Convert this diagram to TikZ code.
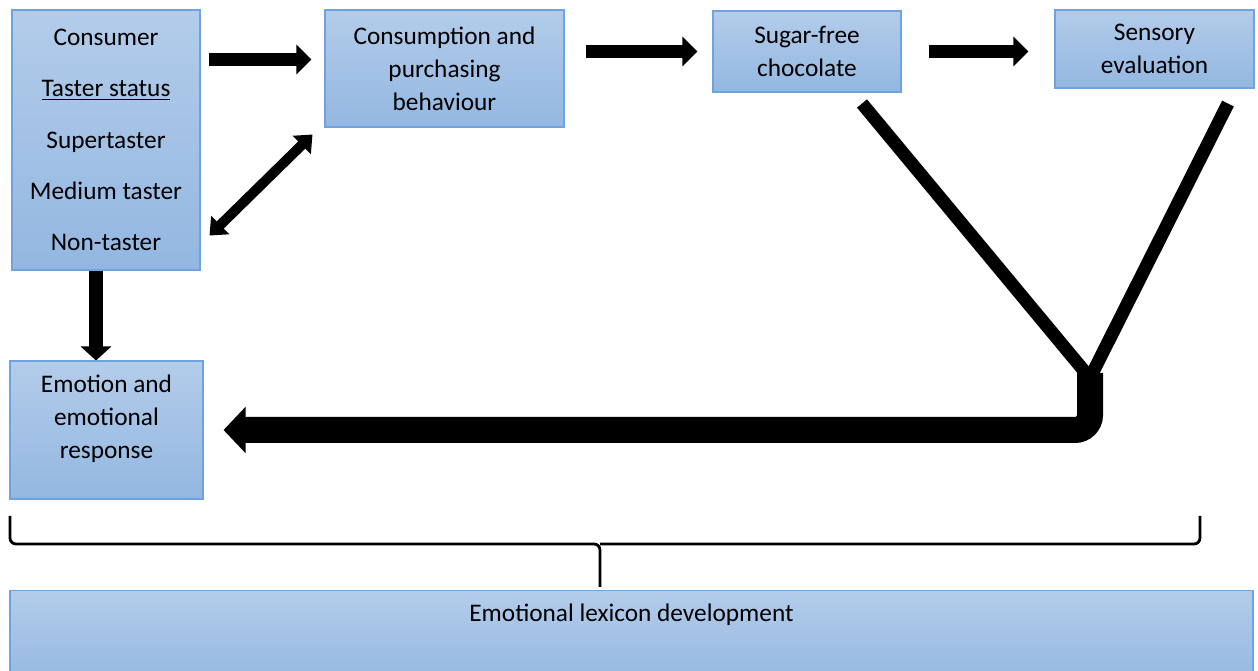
\documentclass[tikz,border=0pt]{standalone}
\usepackage{fontspec}
\setmainfont{Carlito}
\usepackage{tikz}
\usetikzlibrary{arrows.meta}
\definecolor{boxtop}{HTML}{B3CCEA}
\definecolor{boxbottom}{HTML}{93B7E1}
\definecolor{boxline}{HTML}{6FA3DE}

\begin{document}
\begin{tikzpicture}[
  every node/.style={font=\fontsize{14.4}{18.8}\selectfont},
  stage/.style={draw=boxline, line width=0.6pt, top color=boxtop, bottom color=boxbottom, align=center, inner sep=2pt},
  fat/.style={line width=0.26cm, -{Triangle[length=3mm,width=5.8mm]}},
  twoway/.style={line width=0.2cm, {Triangle[length=3mm,width=5mm]}-{Triangle[length=3mm,width=5mm]}},
  down/.style={line width=0.28cm, -{Triangle[length=2.8mm,width=6mm]}},
  prong/.style={line width=0.26cm},
  merge/.style={line width=0.52cm, rounded corners=0.3cm, -{Triangle[length=4.4mm,width=9mm]}},
  brace/.style={line width=1.6pt, rounded corners=0.12cm}
]
\useasboundingbox (0,0) rectangle (25.16,13.42);

\node[stage, minimum width=3.76cm, minimum height=5.2cm] (consumer) at (2.12,10.62) {Consumer\\[10.4pt]\underline{Taster status}\\[10.4pt]Supertaster\\[10.4pt]Medium taster\\[10.4pt]Non-taster};
\node[stage, minimum width=4.78cm, minimum height=2.34cm] (consumption) at (8.89,12.05) {Consumption and\\purchasing\\behaviour};
\node[stage, minimum width=3.76cm, minimum height=1.62cm] (sugar) at (16.14,12.39) {Sugar-free\\chocolate};
\node[stage, minimum width=3.98cm, minimum height=1.56cm] (sensory) at (23.09,12.44) {Sensory\\evaluation};
\node[stage, minimum width=3.86cm, minimum height=2.76cm, text depth=0.52cm] (emotion) at (2.13,4.82) {Emotion and\\emotional\\response};
\node[stage, anchor=north, minimum width=24.86cm, inner ysep=0pt, text height=0.62cm, text depth=1.3cm] (lexicon) at (12.63,1.62) {Emotional lexicon development};

\coordinate (toprow) at ([yshift=-1cm]consumer.north east);
\coordinate (drop) at ([xshift=-0.2cm]consumer.south);
\coordinate (junction) at (21.8,5.96);

\draw[fat, shorten <=0.16cm, shorten >=0.26cm] (toprow) -- (toprow -| consumption.west);
\draw[fat, shorten <=0.42cm, shorten >=0.3cm] (consumption.east |- sugar.west) -- (sugar.west);
\draw[fat, shorten <=0.54cm, shorten >=0.52cm] (sugar.east) -- (sugar.east -| sensory.west);
\draw[twoway] ([shift={(0.18,0.7)}]consumer.south east) -- ([shift={(-0.24,-0.14)}]consumption.south west);
\draw[down] (drop) -- (drop |- emotion.north);

\draw[prong] ([shift={(1.1,-0.22)}]sugar.south) -- ([yshift=-0.1cm]junction);
\draw[prong] ([shift={(1.47,-0.3)}]sensory.south) -- ([yshift=-0.1cm]junction);
\draw[merge, shorten >=0.4cm] (junction) |- (emotion.east);

\draw[brace] (0.2,3.1) -- (0.2,2.54) -- (12,2.54) -- (12,1.68);
\draw[brace] (24,3.1) -- (24,2.54) -- (12,2.54);
\end{tikzpicture}
\end{document}
